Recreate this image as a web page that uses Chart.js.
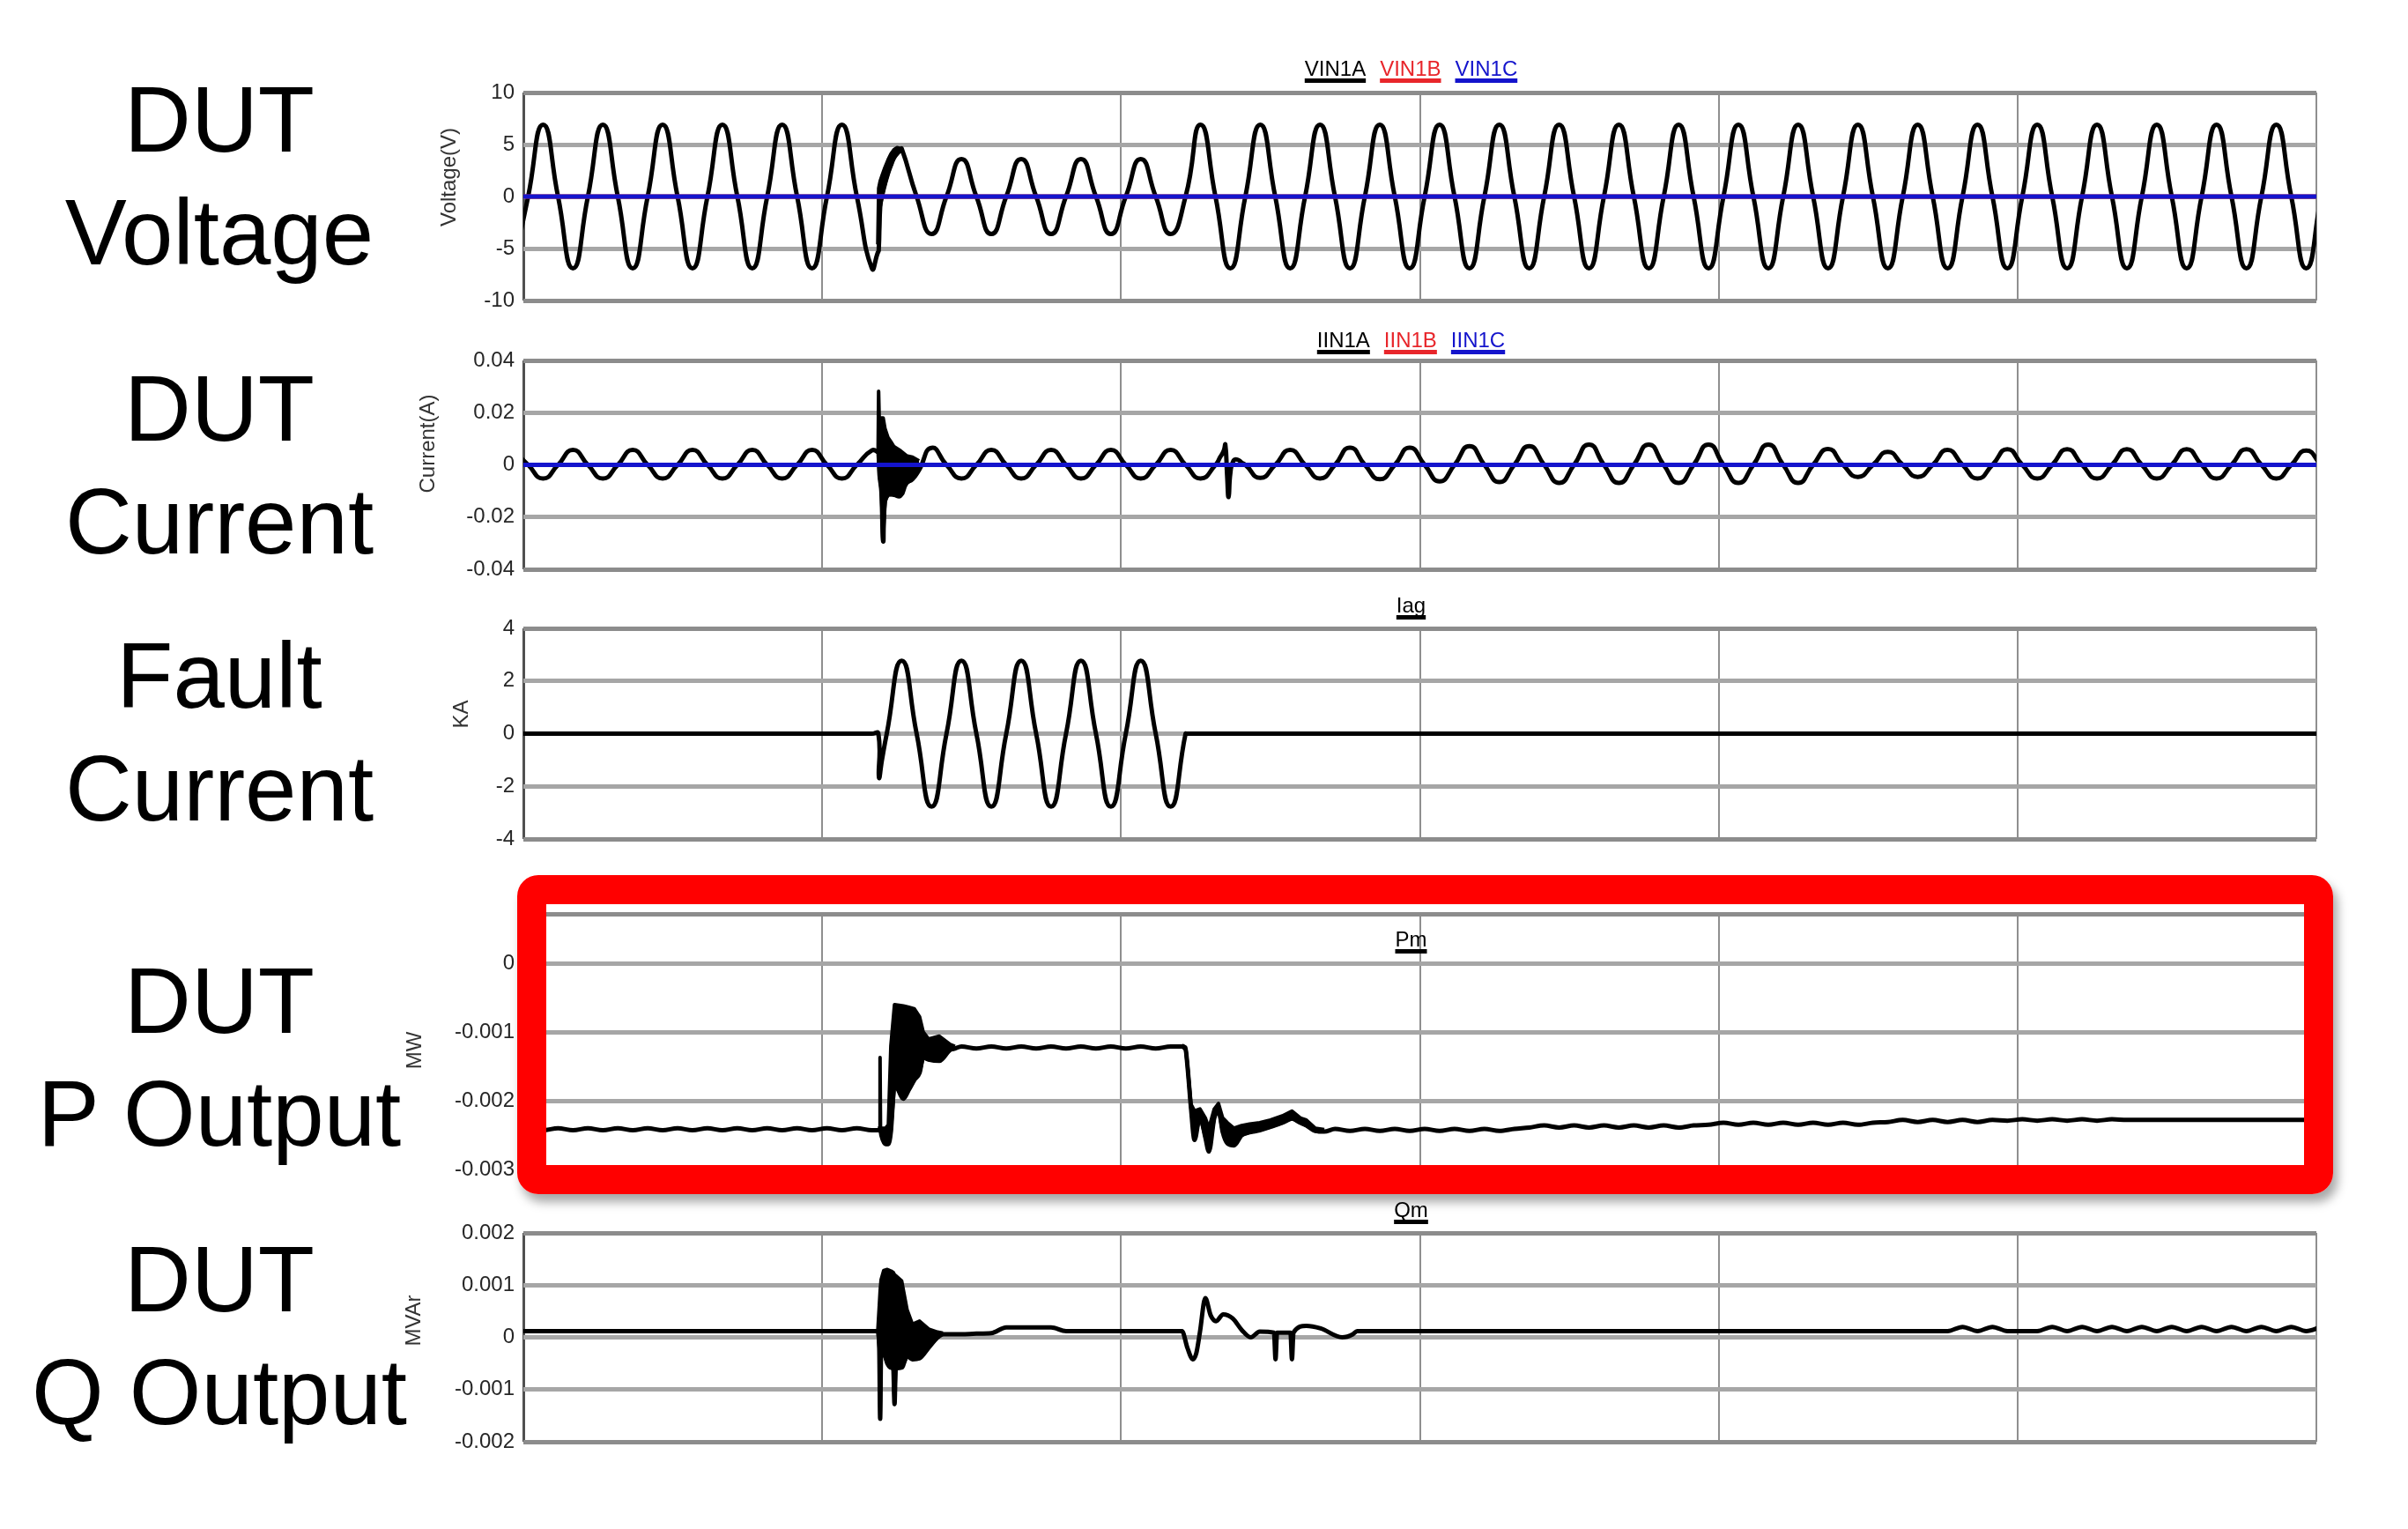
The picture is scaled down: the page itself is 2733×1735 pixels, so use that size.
<!DOCTYPE html>
<html>
<head>
<meta charset="utf-8">
<title>DUT fault test waveforms</title>
<script src="https://cdn.jsdelivr.net/npm/chart.js@4.4.1/dist/chart.umd.min.js"></script>
<style>
  html, body { margin: 0; padding: 0; background: #fff; }
  body { width: 2733px; height: 1735px; position: relative; overflow: hidden;
         font-family: 'Liberation Sans', Arial, sans-serif; }
  .side { position: absolute; left: 0; width: 498px; text-align: center;
          font-size: 105px; line-height: 128px; color: #000; }
  .panel { position: absolute; left: 420px; }
  .callout { position: absolute; left: 587px; top: 993px; width: 2061px; height: 362px;
             box-sizing: border-box; border: 33px solid #ff0000; border-radius: 24px;
             box-shadow: 5px 9px 12px rgba(0,0,0,0.35); }
</style>
</head>
<body>
<div class="side" style="top:72px">DUT<br>Voltage</div>
<div class="side" style="top:400px">DUT<br>Current</div>
<div class="side" style="top:703px">Fault<br>Current</div>
<div class="side" style="top:1072px">DUT<br>P Output</div>
<div class="side" style="top:1388px">DUT<br>Q Output</div>

<canvas id="cVolt" class="panel"></canvas>
<canvas id="cCur" class="panel"></canvas>
<canvas id="cIag" class="panel"></canvas>
<canvas id="cPm" class="panel"></canvas>
<canvas id="cQm" class="panel"></canvas>
<div class="callout"></div>

<script>
/* Five stacked scope traces. Time axis is in 60 Hz cycles (0..30, grid every 5).
   Main waveforms are read at quarter-cycle points (zero crossings and peaks),
   starting at T_START; short transients are read separately and spliced in. */

const T_START = -0.17;
const T_STEP = 0.25;
const X_TICKS = [0, 5, 10, 15, 20, 25, 30];
const FLAT_T = [0, 30];

// ---- DUT voltage (V) ----
const VOLT_TICKS = [-10, -5, 0, 5, 10];
const VIN1A = [
  -6.9, 0, 6.9, 0,  -6.9, 0, 6.9, 0,  -6.9, 0, 6.9, 0,  -6.9, 0, 6.9, 0,
  -6.9, 0, 6.9, 0,  -6.9, 0, 6.9, 0,
  -6.9, 2.8, 4.6, 0,                       // fault applied
  -3.6, 0, 3.6, 0,  -3.6, 0, 3.6, 0,  -3.6, 0, 3.6, 0,  -3.6, 0, 3.6, 0,
  -3.6, 0, 6.9, 0,                         // fault cleared
  -6.9, 0, 6.9, 0,  -6.9, 0, 6.9, 0,  -6.9, 0, 6.9, 0,  -6.9, 0, 6.9, 0,
  -6.9, 0, 6.9, 0,  -6.9, 0, 6.9, 0,  -6.9, 0, 6.9, 0,  -6.9, 0, 6.9, 0,
  -6.9, 0, 6.9, 0,  -6.9, 0, 6.9, 0,  -6.9, 0, 6.9, 0,  -6.9, 0, 6.9, 0,
  -6.9, 0, 6.9, 0,  -6.9, 0, 6.9, 0,  -6.9, 0, 6.9, 0,  -6.9, 0, 6.9, 0,
  -6.9, 0, 6.9, 0,  -6.9, 0, 6.9, 0,
  -6.9, 0
];
const VIN1B = [0, 0];
const VIN1C = [0, 0];
const VOLT_BURST_T  = [5.93, 5.945, 5.97, 6.00, 6.05, 6.10, 6.15, 6.20, 6.25, 6.30];
const VOLT_BURST_HI = [-4.6, 0.8, 1.5, 2.0, 2.8, 3.5, 4.1, 4.5, 4.7, 4.65];
const VOLT_BURST_LO = [-5.4, -5.2, -1.0, 0.0, 1.2, 2.2, 3.0, 3.7, 4.1, 4.4];

// ---- DUT current (A) ----
const CUR_TICKS = [-0.04, -0.02, 0, 0.02, 0.04];
const IIN1A = [
  0.0057, 0, -0.0052, 0,  0.0057, 0, -0.0052, 0,  0.0057, 0, -0.0052, 0,
  0.0057, 0, -0.0052, 0,  0.0057, 0, -0.0052, 0,  0.0057, 0, -0.0052, 0,
  0.0055, 0, -0.0052, 0,  0.0065, 0, -0.0052, 0,
  0.0057, 0, -0.0052, 0,  0.0057, 0, -0.0052, 0,  0.0057, 0, -0.0052, 0,  0.0057, 0, -0.0052, 0,
  0.0030, 0, -0.0050, 0,  0.0057, 0, -0.0052, 0,  0.0066, 0, -0.0055, 0,  0.0066, 0, -0.0063, 0,
  0.0072, 0, -0.0066, 0,  0.0072, 0, -0.0069, 0,
  0.0078, 0, -0.0069, 0,  0.0078, 0, -0.0069, 0,  0.0078, 0, -0.0069, 0,  0.0078, 0, -0.0069, 0,
  0.0061, 0, -0.0046, 0,  0.0050, 0, -0.0046, 0,  0.0057, 0, -0.0052, 0,
  0.0060, 0, -0.0052, 0,  0.0060, 0, -0.0052, 0,  0.0060, 0, -0.0052, 0,
  0.0060, 0, -0.0052, 0,  0.0060, 0, -0.0052, 0,
  0.0055, 0
];
const IIN1B = [0, 0];
const IIN1C = [0, 0];
const CUR_BURST_T  = [5.935, 5.944, 5.96, 5.99, 6.02, 6.05, 6.10, 6.15, 6.20, 6.31, 6.41, 6.51, 6.62];
const CUR_BURST_HI = [0.0050, 0.0282, 0.012, 0.018, 0.018, 0.014, 0.0105, 0.0088, 0.007, 0.0054, 0.0035, 0.003, 0.0015];
const CUR_BURST_LO = [0.0048, 0.0040, -0.004, -0.010, -0.0293, -0.014, -0.0115, -0.0113, -0.0115, -0.0118, -0.007, -0.0055, -0.002];
const CUR_SPIKE_T = [11.66, 11.72, 11.745, 11.775, 11.80, 11.83, 11.88, 11.95, 12.02];
const CUR_SPIKE_V = [0.0030, 0.0055, 0.0077, -0.004, -0.0123, -0.003, 0.0015, 0.002, 0.0008];

// ---- Fault current (kA) ----
const IAG_TICKS = [-4, -2, 0, 2, 4];
const IAG = [
  0, 0, 0, 0,  0, 0, 0, 0,  0, 0, 0, 0,  0, 0, 0, 0,  0, 0, 0, 0,  0, 0, 0, 0,
  0, 0, 2.77, 0,
  -2.77, 0, 2.77, 0,  -2.77, 0, 2.77, 0,  -2.77, 0, 2.77, 0,  -2.77, 0, 2.77, 0,
  -2.77, 0, 0, 0,
  0, 0, 0, 0,  0, 0, 0, 0,  0, 0, 0, 0,  0, 0, 0, 0,  0, 0, 0, 0,  0, 0, 0, 0,
  0, 0, 0, 0,  0, 0, 0, 0,  0, 0, 0, 0,  0, 0, 0, 0,  0, 0, 0, 0,  0, 0, 0, 0,
  0, 0, 0, 0,  0, 0, 0, 0,  0, 0, 0, 0,  0, 0, 0, 0,  0, 0, 0, 0,  0, 0, 0, 0,
  0, 0
];
const IAG_SPIKE_T = [5.94, 5.95, 6.0];
const IAG_SPIKE_V = [0, -1.66, -1.0];
const IAG_CLEAR_T = [11.08, 11.09];        // current stops dead at its zero crossing
const IAG_CLEAR_V = [0, 0];

// ---- DUT P output (MW) ----
const PM_TICKS = [-0.003, -0.002, -0.001, 0];
const PM_TOP = 0.00072;
const PM = [
  -0.00243, -0.00240, -0.00243, -0.00240,  -0.00243, -0.00240, -0.00243, -0.00240,
  -0.00243, -0.00240, -0.00243, -0.00240,  -0.00243, -0.00240, -0.00243, -0.00240,
  -0.00243, -0.00240, -0.00243, -0.00240,  -0.00243, -0.00240, -0.00243, -0.00240,
  -0.00243, -0.00240, -0.00240, -0.00240,
  -0.00140, -0.00120, -0.00121, -0.00124,
  -0.00121, -0.00124, -0.00121, -0.00124,  -0.00121, -0.00124, -0.00121, -0.00124,
  -0.00121, -0.00124, -0.00121, -0.00124,
  -0.00121, -0.00125, -0.00220, -0.00250,
  -0.00260, -0.00240, -0.00240, -0.00230,
  -0.00220, -0.00230, -0.00240, -0.00241,
  -0.00244, -0.00241, -0.00244, -0.00241,  -0.00244, -0.00241, -0.00244, -0.00241,
  -0.00244, -0.00241, -0.00244, -0.00241,
  -0.00239, -0.00236, -0.00239, -0.00236,  -0.00239, -0.00236, -0.00239, -0.00236,
  -0.00239, -0.00236, -0.00239, -0.00236,
  -0.00235, -0.00232, -0.00235, -0.00232,  -0.00235, -0.00232, -0.00235, -0.00232,
  -0.00235, -0.00232, -0.00235, -0.00232,
  -0.00231, -0.00228, -0.00231, -0.00228,  -0.00231, -0.00228, -0.00231, -0.00228,
  -0.00229, -0.00227, -0.00229, -0.00227,  -0.00229, -0.00227, -0.00229, -0.00227,
  -0.00228, -0.00228, -0.00228, -0.00228,  -0.00228, -0.00228, -0.00228, -0.00228,
  -0.00228, -0.00228, -0.00228, -0.00228,
  -0.00228, -0.00228
];
const PM_BURST_T  = [5.93, 5.96, 5.968, 5.976, 5.99, 6.06, 6.107, 6.149, 6.21, 6.36, 6.45, 6.54, 6.63, 6.69, 6.78, 6.96, 7.14, 7.22];
const PM_BURST_HI = [-0.00240, -0.00240, -0.00137, -0.00240, -0.00240, -0.00240, -0.00235, -0.00120, -0.00060,
                     -0.00062, -0.00064, -0.00066, -0.00078, -0.00100, -0.00110, -0.00106, -0.00118, -0.00121];
const PM_BURST_LO = [-0.00243, -0.00243, -0.00243, -0.00243, -0.00250, -0.00263, -0.00263, -0.00245, -0.00176,
                     -0.00197, -0.00184, -0.00170, -0.00159, -0.00137, -0.00140, -0.00142, -0.00126, -0.00124];
const PM_CLEAR_T  = [11.02, 11.08, 11.11, 11.17, 11.23, 11.32, 11.41, 11.47, 11.56, 11.63, 11.70, 11.78,
                     11.89, 12.02, 12.15, 12.32, 12.50, 12.70, 12.86, 13.00, 13.10, 13.25, 13.40];
const PM_CLEAR_HI = [-0.00119, -0.00122, -0.00145, -0.00205, -0.00215, -0.00212, -0.00225, -0.00240, -0.00212,
                     -0.00204, -0.00225, -0.00232, -0.00240, -0.00236, -0.00234, -0.00232, -0.00228, -0.00222,
                     -0.00215, -0.00225, -0.00228, -0.00240, -0.00242];
const PM_CLEAR_LO = [-0.00121, -0.00125, -0.00148, -0.00210, -0.00257, -0.00222, -0.00253, -0.00274, -0.00225,
                     -0.00212, -0.00245, -0.00262, -0.00265, -0.00250, -0.00246, -0.00243, -0.00238, -0.00232,
                     -0.00226, -0.00232, -0.00236, -0.00244, -0.00245];

// ---- DUT Q output (MVAr) ----
const QM_TICKS = [-0.002, -0.001, 0, 0.001, 0.002];
const QM = [
  0.00012, 0.00012, 0.00012, 0.00012,  0.00012, 0.00012, 0.00012, 0.00012,
  0.00012, 0.00012, 0.00012, 0.00012,  0.00012, 0.00012, 0.00012, 0.00012,
  0.00012, 0.00012, 0.00012, 0.00012,  0.00012, 0.00012, 0.00012, 0.00012,
  0.00012, 0.00012, 0.00012, 0.00012,
  0.00012, 0.00006, 0.00006, 0.00007,
  0.00008, 0.00019, 0.00019, 0.00019,
  0.00019, 0.00012, 0.00012, 0.00012,
  0.00012, 0.00012, 0.00012, 0.00012,  0.00012, 0.00012, 0.00012, 0.00012,
  0.00012, 0.00012, 0.00012, 0.00012,  0.00012, 0.00012, 0.00012, 0.00012,
  0.00012, 0.00012, 0.00012, 0.00012,  0.00012, 0.00012, 0.00012, 0.00012,
  0.00012, 0.00012, 0.00012, 0.00012,  0.00012, 0.00012, 0.00012, 0.00012,
  0.00012, 0.00012, 0.00012, 0.00012,  0.00012, 0.00012, 0.00012, 0.00012,
  0.00012, 0.00012, 0.00012, 0.00012,  0.00012, 0.00012, 0.00012, 0.00012,
  0.00012, 0.00012, 0.00012, 0.00012,  0.00012, 0.00012, 0.00012, 0.00012,
  0.00012, 0.00020, 0.00012, 0.00020,
  0.00012, 0.00012, 0.00012, 0.00020,
  0.00012, 0.00020, 0.00012, 0.00020,  0.00012, 0.00020, 0.00012, 0.00020,
  0.00012, 0.00020, 0.00012, 0.00020,  0.00012, 0.00020, 0.00012, 0.00020,
  0.00012, 0.00020
];
const QM_BURST_T  = [5.93, 5.955, 5.97, 5.985, 6.03, 6.09, 6.15, 6.19, 6.21, 6.23, 6.33, 6.42, 6.51, 6.63, 6.78, 6.93, 7.02];
const QM_BURST_HI = [0.00012, 0.0006, 0.0009, 0.0011, 0.00128, 0.0013, 0.00127, 0.00124, 0.0012, 0.00118,
                     0.00108, 0.00053, 0.00025, 0.00031, 0.00016, 0.0001, 0.00008];
const QM_BURST_LO = [0.00012, -0.0002, -0.00156, -0.0003, -0.0003, -0.0005, -0.00058, -0.0006, -0.00128, -0.0006,
                     -0.00058, -0.00036, -0.00042, -0.0004, -0.0002, 0.0, 0.00006];
const QM_CLEAR_T = [11.02, 11.11, 11.20, 11.26, 11.32, 11.41, 11.50, 11.59, 11.71, 11.87, 12.02, 12.17,
                    12.32, 12.56, 12.585, 12.61, 12.835, 12.86, 12.885, 13.10, 13.34, 13.70, 13.88, 13.95];
const QM_CLEAR_V = [0.00012, -0.0002, -0.00042, -0.0003, 0.0001, 0.00075, 0.00042, 0.00031, 0.00044, 0.00036,
                    0.00014, 0.0, 0.00011, 0.00009, -0.00042, 0.00009, 0.00009, -0.00042, 0.00009, 0.00022,
                    0.00017, 0.0, 0.00006, 0.00012];

/* ---- layout / style ---- */
const FONT = "'Liberation Sans', Arial, sans-serif";
const CANVAS_W = 2260, AXIS_W = 174, PAD_RIGHT = 51, PAD_TOP = 60, PAD_BOTTOM = 25;
const BLACK = '#000000', RED = '#e8262b', BLUE = '#1414cc';

Chart.defaults.font.family = FONT;

const gridPts = vals => vals.map((v, i) => ({ x: Math.round((T_START + i * T_STEP) * 1000) / 1000, y: v }));
const xy = (ts, vs) => ts.map((t, i) => ({ x: t, y: vs[i] }));

// replace the quarter-cycle points covered by a transient with the transient itself
function splice(base, ev) {
  const a = ev[0].x, b = ev[ev.length - 1].x;
  return base.filter(p => p.x < a || p.x > b).concat(ev).sort((p, q) => p.x - q.x);
}

// smooth: bezier through quarter-cycle points (sine-like); otherwise monotone (no overshoot)
function trace(data, color, width, order, smooth) {
  return Object.assign(
    { data, borderColor: color, backgroundColor: color, borderWidth: width, pointRadius: 0,
      fill: false, order, clip: 0, borderJoinStyle: 'round' },
    smooth ? { tension: 0.55 } : { cubicInterpolationMode: 'monotone' });
}
// dense ringing drawn as a solid band between its upper and lower envelope
function band(ts, hi, lo) {
  const common = { borderColor: BLACK, backgroundColor: BLACK, borderWidth: 4, pointRadius: 0,
                   tension: 0, order: 1, clip: 0, borderJoinStyle: 'round' };
  return [
    Object.assign({ data: xy(ts, hi), fill: '+1' }, common),
    Object.assign({ data: xy(ts, lo), fill: false }, common)
  ];
}

const fmt = v => Math.abs(v) < 1e-12 ? '0' : String(parseFloat(v.toFixed(6)));

// axis title + underlined trace names, placed relative to the plot area
function scopeText(t) {
  return {
    id: 'scopeText',
    afterDraw(chart) {
      const { ctx, chartArea: a } = chart;
      ctx.save();
      ctx.font = '24px ' + FONT;
      ctx.fillStyle = '#333';
      ctx.textAlign = 'center';
      ctx.textBaseline = 'middle';
      ctx.translate(a.left + t.axisDx, (a.top + a.bottom) / 2 + t.axisDy);
      ctx.rotate(-Math.PI / 2);
      ctx.fillText(t.axis, 0, 0);
      ctx.restore();

      ctx.save();
      ctx.font = '24px ' + FONT;
      ctx.textAlign = 'left';
      ctx.textBaseline = 'alphabetic';
      const gap = 16;
      const widths = t.names.map(n => ctx.measureText(n).width);
      const total = widths.reduce((s, w) => s + w, 0) + gap * (widths.length - 1);
      let x = (a.left + a.right) / 2 - 10 - total / 2;
      const y = a.top + t.nameDy;
      t.names.forEach((n, i) => {
        ctx.fillStyle = t.colors[i];
        ctx.fillText(n, x, y);
        ctx.fillRect(x, y + 3, widths[i], 5);
        x += widths[i] + gap;
      });
      ctx.restore();
    }
  };
}

function scopeChart(id, plotTop, plotBottom, y, datasets, text) {
  const el = document.getElementById(id);
  el.width = CANVAS_W;
  el.height = plotBottom - plotTop + PAD_TOP + PAD_BOTTOM;
  el.style.top = (plotTop - PAD_TOP) + 'px';
  el.style.width = CANVAS_W + 'px';
  el.style.height = el.height + 'px';
  return new Chart(el.getContext('2d'), {
    type: 'line',
    data: { datasets },
    options: {
      responsive: false, animation: false, devicePixelRatio: 1,
      layout: { padding: { top: PAD_TOP, bottom: PAD_BOTTOM, left: 0, right: PAD_RIGHT } },
      plugins: { legend: { display: false }, tooltip: { enabled: false } },
      scales: {
        x: {
          type: 'linear', min: 0, max: 30,
          afterBuildTicks: s => { s.ticks = X_TICKS.map(v => ({ value: v })); },
          ticks: { display: false },
          grid: {
            drawTicks: false,
            color: c => (c.tick && c.tick.value === 0) ? '#505050' : '#8f8f8f',
            lineWidth: c => (c.tick && c.tick.value === 0) ? 3 : 2
          },
          border: { display: false }
        },
        y: {
          type: 'linear', min: y.min, max: y.max,
          afterBuildTicks: s => { s.ticks = y.ticks.map(v => ({ value: v })); },
          afterFit: s => { s.width = AXIS_W; },
          ticks: { padding: 10, color: '#262626', font: { size: 24 }, callback: y.label || fmt },
          grid: {
            drawTicks: false,
            color: c => (c.tick && (c.tick.value === y.min || c.tick.value === y.max)) ? '#8c8c8c' : '#a6a6a6',
            lineWidth: 5
          },
          border: { display: false }
        }
      }
    },
    plugins: [scopeText(text)]
  });
}

/* ---- panels ---- */
scopeChart('cVolt', 105, 341,
  { min: -10, max: 10, ticks: VOLT_TICKS },
  [
    trace(xy(FLAT_T, VIN1C), BLUE, 5, 0),
    trace(xy(FLAT_T, VIN1B), RED, 5, 0),
    ...band(VOLT_BURST_T, VOLT_BURST_HI, VOLT_BURST_LO),
    trace(splice(gridPts(VIN1A), xy(VOLT_BURST_T, VOLT_BURST_LO)), BLACK, 5, 2, true)
  ],
  { axis: 'Voltage(V)', axisDx: -84, axisDy: -22,
    names: ['VIN1A', 'VIN1B', 'VIN1C'], colors: [BLACK, RED, BLUE], nameDy: -19 });

scopeChart('cCur', 409, 646,
  { min: -0.04, max: 0.04, ticks: CUR_TICKS },
  [
    trace(xy(FLAT_T, IIN1C), BLUE, 5, 0),
    trace(xy(FLAT_T, IIN1B), RED, 5, 0),
    ...band(CUR_BURST_T, CUR_BURST_HI, CUR_BURST_LO),
    trace(splice(splice(gridPts(IIN1A), xy(CUR_BURST_T, CUR_BURST_LO)), xy(CUR_SPIKE_T, CUR_SPIKE_V)), BLACK, 5, 2, true)
  ],
  { axis: 'Current(A)', axisDx: -108, axisDy: -24,
    names: ['IIN1A', 'IIN1B', 'IIN1C'], colors: [BLACK, RED, BLUE], nameDy: -15 });

scopeChart('cIag', 713, 952,
  { min: -4, max: 4, ticks: IAG_TICKS },
  [ trace(splice(splice(gridPts(IAG), xy(IAG_SPIKE_T, IAG_SPIKE_V)), xy(IAG_CLEAR_T, IAG_CLEAR_V)), BLACK, 5, 2, true) ],
  { axis: 'KA', axisDx: -70, axisDy: -22, names: ['Iag'], colors: [BLACK], nameDy: -18 });

scopeChart('cPm', 1037, 1327,
  { min: -0.003, max: PM_TOP, ticks: PM_TICKS.concat([PM_TOP]), label: v => v === PM_TOP ? '' : fmt(v) },
  [
    ...band(PM_BURST_T, PM_BURST_HI, PM_BURST_LO),
    ...band(PM_CLEAR_T, PM_CLEAR_HI, PM_CLEAR_LO),
    trace(splice(splice(gridPts(PM), xy(PM_BURST_T, PM_BURST_LO)), xy(PM_CLEAR_T, PM_CLEAR_LO)), BLACK, 5, 2)
  ],
  { axis: 'MW', axisDx: -123, axisDy: 10, names: ['Pm'], colors: [BLACK], nameDy: 37 });

scopeChart('cQm', 1399, 1636,
  { min: -0.002, max: 0.002, ticks: QM_TICKS },
  [
    ...band(QM_BURST_T, QM_BURST_HI, QM_BURST_LO),
    trace(splice(splice(gridPts(QM), xy(QM_BURST_T, QM_BURST_LO)), xy(QM_CLEAR_T, QM_CLEAR_V)), BLACK, 5, 2)
  ],
  { axis: 'MVAr', axisDx: -124, axisDy: -19, names: ['Qm'], colors: [BLACK], nameDy: -18 });
</script>
</body>
</html>
